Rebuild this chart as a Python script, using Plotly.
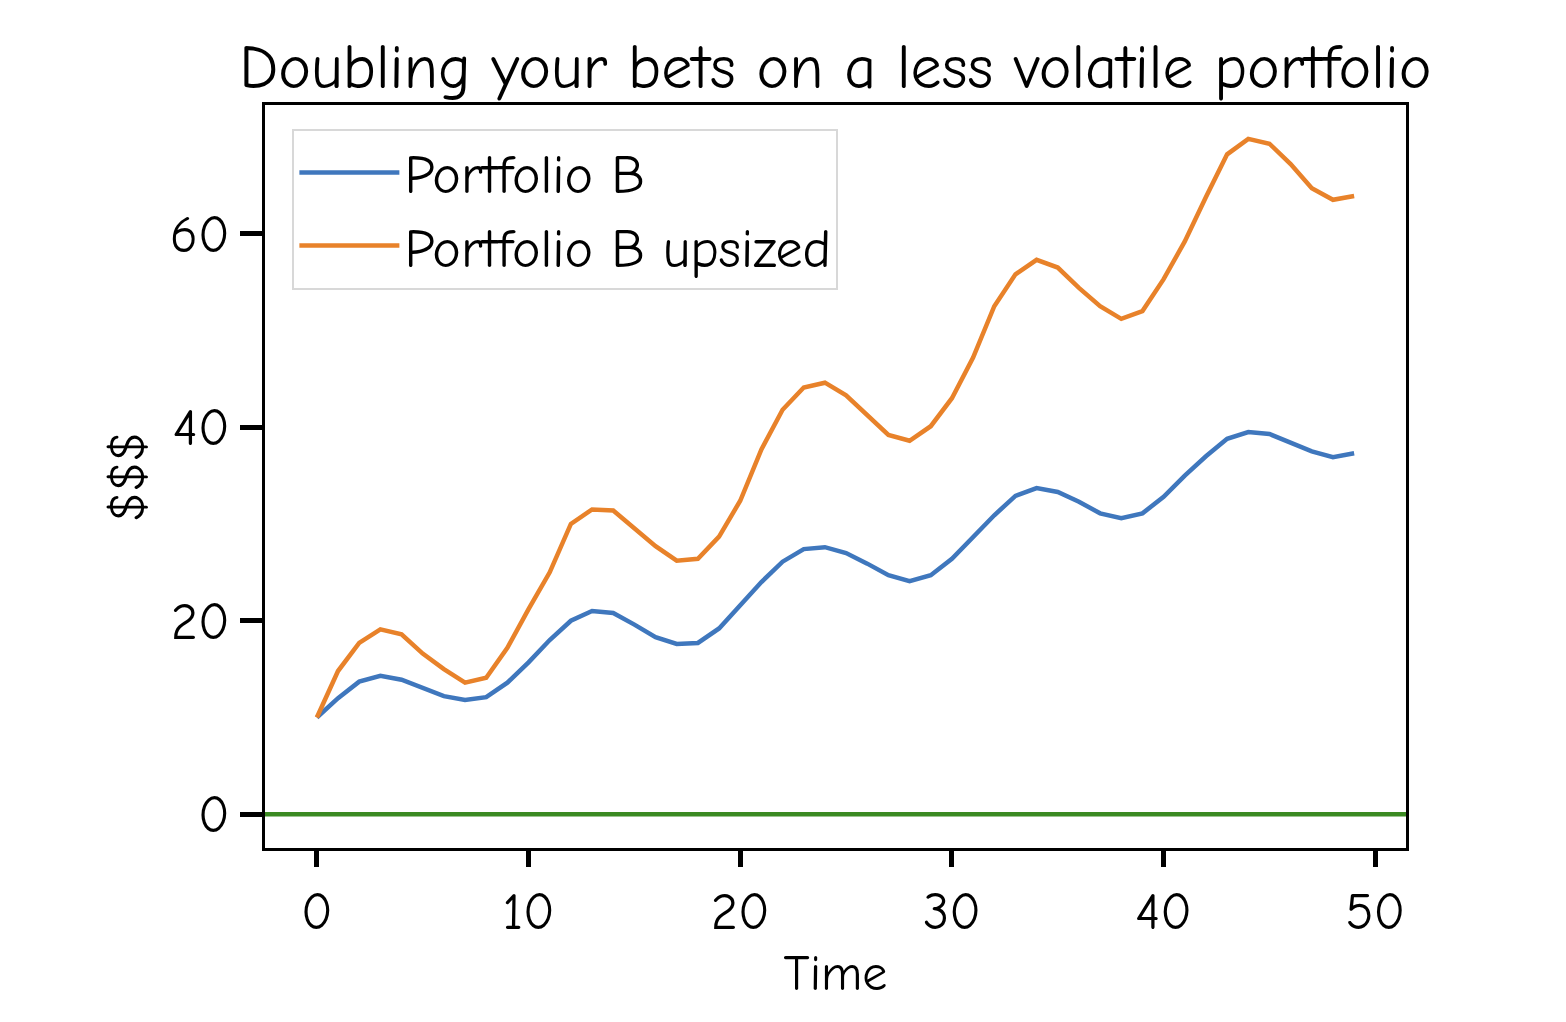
import plotly.graph_objects as go

time = list(range(50))
portfolio_b = [10.0, 12.0, 13.7, 14.3, 13.9, 13.0, 12.2, 11.8, 12.1, 13.6,
               15.7, 18.0, 20.0, 21.0, 20.8, 19.6, 18.3, 17.6, 17.7, 19.2,
               21.6, 24.0, 26.1, 27.4, 27.6, 27.0, 25.9, 24.7, 24.1, 24.7,
               26.4, 28.7, 30.9, 32.9, 33.7, 33.3, 32.3, 31.1, 30.6, 31.1,
               32.8, 35.0, 37.0, 38.8, 39.5, 39.3, 38.4, 37.5, 36.9, 37.3]
portfolio_b_upsized = [10.0, 14.8, 17.7, 19.1, 18.6, 16.6, 15.0, 13.6, 14.1, 17.2,
                       21.2, 25.0, 30.0, 31.5, 31.4, 29.6, 27.7, 26.2, 26.4, 28.7,
                       32.4, 37.7, 41.8, 44.1, 44.6, 43.3, 41.2, 39.2, 38.6, 40.1,
                       43.0, 47.2, 52.5, 55.8, 57.3, 56.5, 54.4, 52.5, 51.2, 52.0,
                       55.3, 59.2, 63.8, 68.2, 69.8, 69.3, 67.2, 64.7, 63.5, 63.9]
baseline = 0
x_ticks = [0, 10, 20, 30, 40, 50]
y_ticks = [0, 20, 40, 60]

FONT = "Comic Sans MS, Humor Sans, Comic Neue, Lato, sans-serif"

fig = go.Figure()
fig.add_trace(go.Scatter(x=time, y=portfolio_b, mode="lines", name="Portfolio B",
                         line=dict(color="#3f77bd", width=4.5)))
fig.add_trace(go.Scatter(x=time, y=portfolio_b_upsized, mode="lines", name="Portfolio B upsized",
                         line=dict(color="#e8822a", width=4.5)))
fig.add_hline(y=baseline, line=dict(color="#3b8a22", width=4.5), layer="above")

fig.update_layout(
    width=1566, height=1022,
    margin=dict(l=265, r=160, t=105, b=174),
    plot_bgcolor="white", paper_bgcolor="white",
    font=dict(family=FONT, color="black", size=50),
    title=dict(text="Doubling your bets on a less volatile portfolio",
               x=0.5, xref="paper", xanchor="center", y=0.935, yanchor="middle",
               font=dict(size=62, color="black")),
    showlegend=True,
    legend=dict(x=0.024, y=0.968, xanchor="left", yanchor="top",
                bgcolor="white", bordercolor="#d8d8d8", borderwidth=2,
                font=dict(size=54), itemwidth=100, tracegroupgap=0),
)
fig.update_xaxes(range=[-2.45, 51.45], tickvals=x_ticks, ticktext=[str(v) for v in x_ticks],
                 showgrid=False, zeroline=False, showline=True, linecolor="black", linewidth=3,
                 mirror=True, ticks="outside", ticklen=16, tickwidth=5, tickcolor="black",
                 tickfont=dict(size=52), ticklabelstandoff=0,
                 title=dict(text="Time", font=dict(size=50), standoff=14))
fig.update_yaxes(range=[-3.49, 73.3], tickvals=y_ticks, ticktext=[str(v) for v in y_ticks],
                 showgrid=False, zeroline=False, showline=True, linecolor="black", linewidth=3,
                 mirror=True, ticks="outside", ticklen=22, tickwidth=5, tickcolor="black",
                 tickfont=dict(size=52), ticklabelstandoff=0,
                 title=dict(text="$$$", font=dict(size=50), standoff=10))

fig.write_html("out.html")
